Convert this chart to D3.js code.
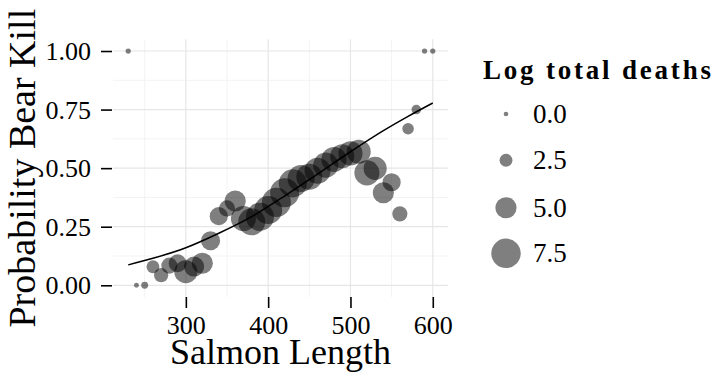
<!DOCTYPE html>
<html>
<head>
<meta charset="utf-8">
<script src="https://cdn.jsdelivr.net/npm/d3@7"></script>
<style>
  body { margin: 0; background: #fff; }
  svg, svg text { font-family: "Liberation Serif", "DejaVu Serif", serif; }
</style>
</head>
<body>
<div></div>
<script>
const width = 715;
const height = 372;

// binned salmon lengths, share killed by bears, log of total deaths in bin
const lengths = [230, 240, 250, 260, 270, 280, 290, 300, 310, 320, 330, 340, 350, 360,
  370, 380, 390, 400, 410, 420, 430, 440, 450, 460, 470, 480, 490, 500, 510, 520,
  530, 540, 550, 560, 570, 580, 590, 600];
const probKill = [1.0, 0.0, 0.0, 0.079, 0.043, 0.084, 0.094, 0.058, 0.08, 0.094, 0.19,
  0.295, 0.328, 0.36, 0.285, 0.271, 0.292, 0.321, 0.354, 0.395, 0.435, 0.456, 0.463,
  0.489, 0.513, 0.537, 0.551, 0.563, 0.57, 0.48, 0.499, 0.395, 0.44, 0.305, 0.668,
  0.75, 1.0, 1.0];
const logDeaths = [0.2, 0.1, 0.7, 2.5, 2.9, 3.5, 4.0, 5.6, 4.7, 5.0, 4.4, 4.1, 3.5, 5.0,
  6.2, 6.8, 7.1, 7.1, 7.4, 7.4, 7.1, 6.8, 6.5, 6.5, 6.2, 6.2, 5.9, 5.9, 5.9, 6.2,
  5.6, 5.0, 4.1, 3.2, 2.1, 1.5, 0.2, 0.2];

// fitted curve
const fitLengths = [230, 260, 300, 340, 380, 420, 460, 500, 540, 570, 600];
const fitProb = [0.087, 0.115, 0.16, 0.222, 0.293, 0.381, 0.475, 0.57, 0.66, 0.721, 0.778];

const xTicks = [300, 400, 500, 600];
const xMinor = [250, 350, 450, 550];
const yTicks = [0, 0.25, 0.5, 0.75, 1];
const yMinor = [0.125, 0.375, 0.625, 0.875];
const legendBreaks = [0, 2.5, 5, 7.5];

const panel = { left: 113, right: 448, top: 39.3, bottom: 297 };

const svg = d3
  .select("div")
  .append("svg")
  .attr("width", width)
  .attr("height", height);

const scale_X = d3.scaleLinear().domain([211.5, 618.5]).range([panel.left, panel.right]);
const scale_Y = d3.scaleLinear().domain([-0.05, 1.05]).range([panel.bottom, panel.top]);
const scale_R = d3.scaleLinear().domain([0, 7.5]).range([2.3, 14.7]);

const grid = svg.append("g");
grid.selectAll(".xminor").data(xMinor).enter().append("line")
  .attr("x1", (d) => scale_X(d)).attr("x2", (d) => scale_X(d))
  .attr("y1", panel.top).attr("y2", panel.bottom)
  .attr("stroke", "#f3f3f3").attr("stroke-width", 1);
grid.selectAll(".yminor").data(yMinor).enter().append("line")
  .attr("y1", (d) => scale_Y(d)).attr("y2", (d) => scale_Y(d))
  .attr("x1", panel.left).attr("x2", panel.right)
  .attr("stroke", "#f3f3f3").attr("stroke-width", 1);
grid.selectAll(".xmajor").data(xTicks).enter().append("line")
  .attr("x1", (d) => scale_X(d)).attr("x2", (d) => scale_X(d))
  .attr("y1", panel.top).attr("y2", panel.bottom)
  .attr("stroke", "#e6e6e6").attr("stroke-width", 1.2);
grid.selectAll(".ymajor").data(yTicks).enter().append("line")
  .attr("y1", (d) => scale_Y(d)).attr("y2", (d) => scale_Y(d))
  .attr("x1", panel.left).attr("x2", panel.right)
  .attr("stroke", "#e6e6e6").attr("stroke-width", 1.2);

const axis_X = d3.axisBottom(scale_X).tickValues(xTicks).tickSize(11).tickPadding(8);
const axis_Y = d3.axisLeft(scale_Y).tickValues(yTicks).tickSize(11).tickPadding(10)
  .tickFormat(d3.format(".2f"));

const gx = svg.append("g")
  .attr("transform", "translate(0," + panel.bottom + ")")
  .call(axis_X);
const gy = svg.append("g")
  .attr("transform", "translate(" + (panel.left - 1) + ",0)")
  .call(axis_Y);

[gx, gy].forEach((g) => {
  g.attr("font-family", null).attr("font-size", null);
  g.select(".domain").remove();
  g.selectAll(".tick line").attr("stroke", "#000").attr("stroke-width", 1.6);
  g.selectAll(".tick text")
    .attr("fill", "#000")
    .style("font-size", "26px");
});
gy.selectAll(".tick text").attr("dy", "0.33em");
gx.selectAll(".tick text").attr("dy", "0.7em");

svg.append("g")
  .selectAll("circle")
  .data(lengths)
  .enter()
  .append("circle")
  .attr("cx", (d) => scale_X(d))
  .attr("cy", (d, i) => scale_Y(probKill[i]))
  .attr("r", (d, i) => scale_R(logDeaths[i]))
  .attr("fill", "#000")
  .attr("fill-opacity", 0.5);

const line = d3.line()
  .x((d) => scale_X(d))
  .y((d, i) => scale_Y(fitProb[i]))
  .curve(d3.curveMonotoneX);

svg.append("path")
  .datum(fitLengths)
  .attr("d", line)
  .attr("fill", "none")
  .attr("stroke", "#000")
  .attr("stroke-width", 1.5);

svg.append("text")
  .text("Salmon Length")
  .attr("x", (panel.left + panel.right) / 2)
  .attr("y", 364)
  .attr("text-anchor", "middle")
  .style("font-size", "36px");

svg.append("text")
  .text("Probability Bear Kill")
  .attr("transform", "translate(35," + (panel.top + panel.bottom) / 2 + ") rotate(-90)")
  .attr("text-anchor", "middle")
  .style("font-size", "38px");

const legend = svg.append("g");
legend.append("text")
  .text("Log total deaths")
  .attr("x", 483)
  .attr("y", 79)
  .attr("font-weight", "bold")
  .attr("textLength", 228)
  .attr("lengthAdjust", "spacing")
  .style("font-size", "27px");

const legendY = [114, 160.3, 207.7, 253.3];
legend.selectAll("circle")
  .data(legendBreaks)
  .enter()
  .append("circle")
  .attr("cx", 506)
  .attr("cy", (d, i) => legendY[i])
  .attr("r", (d) => scale_R(d))
  .attr("fill", "#000")
  .attr("fill-opacity", 0.5);

legend.selectAll(".lab")
  .data(legendBreaks)
  .enter()
  .append("text")
  .text((d) => d3.format(".1f")(d))
  .attr("x", 533)
  .attr("y", (d, i) => legendY[i])
  .attr("dy", "0.33em")
  .style("font-size", "27px");
</script>
</body>
</html>
